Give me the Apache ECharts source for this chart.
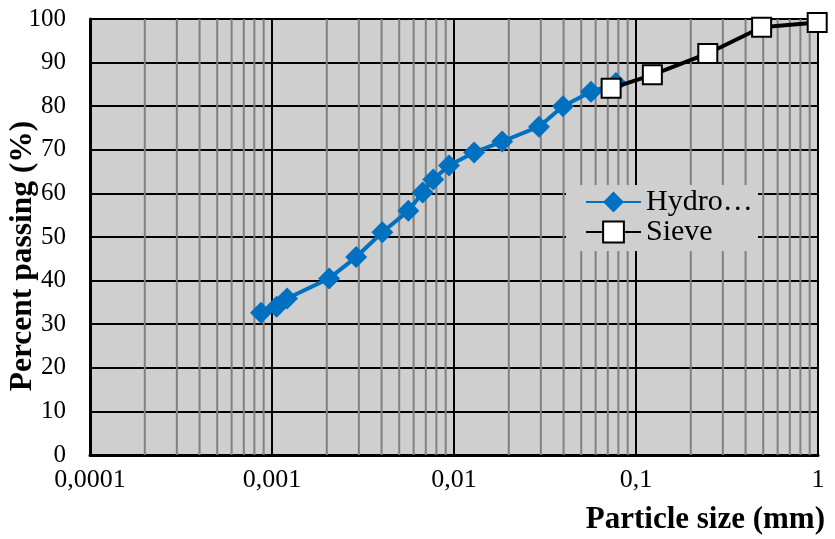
<!DOCTYPE html>
<html>
<head>
<meta charset="utf-8">
<script src="https://cdn.jsdelivr.net/npm/echarts@6/dist/echarts.min.js"></script>
<style>
  html, body { margin: 0; padding: 0; background: #ffffff; }
  #chart { width: 835px; height: 539px; }
</style>
</head>
<body>
<div id="chart"></div>
<script>
// Grain-size distribution: hydrometer and sieve analyses
const hydroSize = [0.00087, 0.00106, 0.00121, 0.00206, 0.0029, 0.00404, 0.00561, 0.00673, 0.00769, 0.00939, 0.0129, 0.0184, 0.0293, 0.0397, 0.0566, 0.0776];
const hydroPass = [32.6, 34.0, 35.9, 40.5, 45.4, 51.1, 56.0, 60.2, 63.2, 66.4, 69.4, 71.9, 75.3, 80.0, 83.3, 85.3];

const sieveSize = [0.073, 0.123, 0.248, 0.49, 0.99];
const sievePass = [84.1, 87.2, 92.1, 98.1, 99.2];

const xTickLabels = ['0,0001', '0,001', '0,01', '0,1', '1'];
const seriesNames = ['Hydrometer', 'Sieve'];

// minor vertical grid lines at 2..9 of each decade
const minorX = [];
for (let e = -4; e < 0; e++) {
  for (let m = 2; m <= 9; m++) minorX.push(m * Math.pow(10, e));
}

const serif = '"Liberation Serif", "Times New Roman", serif';

const chart = echarts.init(document.getElementById('chart'), null, { renderer: 'canvas' });

chart.setOption({
  animation: false,
  textStyle: { fontFamily: serif },
  grid: {
    left: 90, right: 17, top: 19, bottom: 84,
    outerBoundsMode: 'none',
    containLabel: false,
    show: true,
    backgroundColor: '#d0cfd0',
    borderWidth: 0
  },
  legend: {
    orient: 'vertical',
    left: 566,
    top: 185,
    width: 185,
    padding: [2, 0, 4, 19],
    backgroundColor: '#d0cfd0',
    itemWidth: 55,
    itemHeight: 26,
    itemGap: 0,
    data: seriesNames,
    formatter: name => (name.length > 6 ? name.slice(0, 5) + '…' : name),
    textStyle: { fontFamily: serif, fontSize: 30, lineHeight: 30, color: '#000000', width: 112 }
  },
  xAxis: {
    type: 'log',
    logBase: 10,
    min: 0.0001,
    max: 1,
    name: 'Particle size (mm)',
    nameLocation: 'end',
    nameGap: 7,
    nameMoveOverlap: false,
    nameTextStyle: {
      fontFamily: serif, fontSize: 31, fontWeight: 'bold', color: '#000000',
      align: 'right', verticalAlign: 'top', padding: [49, 0, 0, 0]
    },
    axisLine: { show: true, onZero: false, lineStyle: { color: '#000000', width: 3 } },
    axisTick: { show: false },
    axisLabel: {
      margin: 12,
      fontFamily: serif, fontSize: 26, color: '#000000',
      formatter: v => xTickLabels[Math.round(Math.log10(v)) + 4]
    },
    splitLine: { show: true, lineStyle: { color: '#000000', width: 2 } }
  },
  yAxis: {
    type: 'value',
    min: 0,
    max: 100,
    interval: 10,
    name: 'Percent passing (%)',
    nameLocation: 'middle',
    nameGap: 51,
    nameMoveOverlap: false,
    nameTextStyle: {
      fontFamily: serif, fontSize: 31.5, fontWeight: 'bold', color: '#000000',
      padding: [0, 38, 0, 0]
    },
    axisLine: { show: true, lineStyle: { color: '#000000', width: 3 } },
    axisTick: { show: false },
    axisLabel: { margin: 24, fontFamily: serif, fontSize: 25, color: '#000000' },
    splitLine: { show: true, lineStyle: { color: '#000000', width: 2 } }
  },
  series: [
    {
      name: 'minor-grid',
      type: 'custom',
      silent: true,
      z: 1,
      data: minorX,
      encode: { x: 0 },
      renderItem: (params, api) => {
        const v = api.value(0);
        const p0 = api.coord([v, 0]);
        const p1 = api.coord([v, 100]);
        return {
          type: 'line',
          shape: { x1: p0[0], y1: p0[1], x2: p1[0], y2: p1[1] },
          style: { stroke: '#808080', lineWidth: 2 }
        };
      }
    },
    {
      name: seriesNames[0],
      type: 'line',
      z: 3,
      data: hydroSize.map((s, i) => [s, hydroPass[i]]),
      symbol: 'diamond',
      symbolSize: 22,
      lineStyle: { color: '#0070c0', width: 4 },
      itemStyle: { color: '#0070c0' }
    },
    {
      name: seriesNames[1],
      type: 'line',
      z: 4,
      data: sieveSize.map((s, i) => [s, sievePass[i]]),
      symbol: 'rect',
      symbolSize: 19,
      clip: false,
      lineStyle: { color: '#000000', width: 4 },
      itemStyle: { color: '#ffffff', borderColor: '#000000', borderWidth: 2 }
    }
  ]
});
</script>
</body>
</html>
